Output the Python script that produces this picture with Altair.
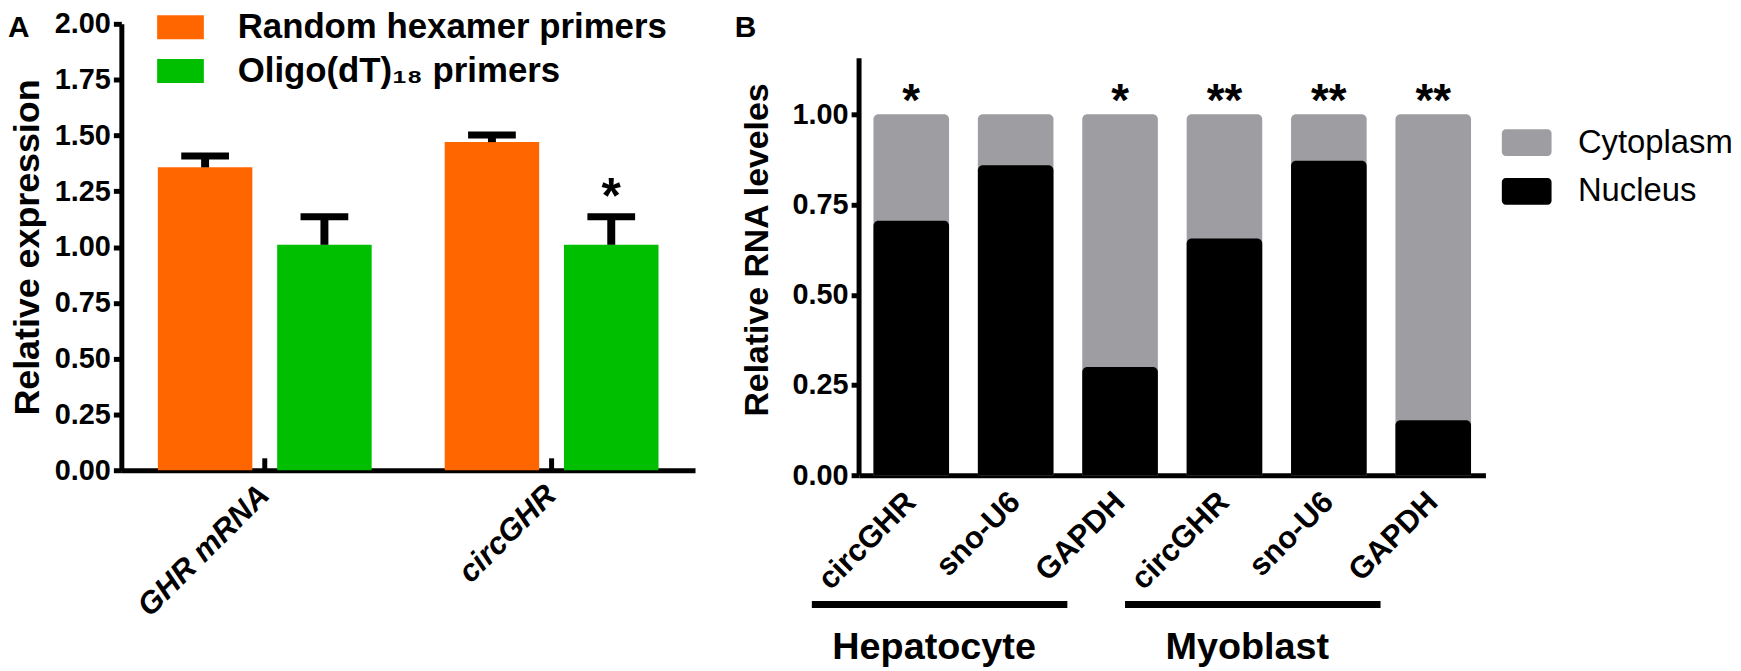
import altair as alt
import pandas as pd

FONT = "Liberation Sans"

# ---------------- Panel A data ----------------
genes_a = ["GHR mRNA", "circGHR"]
primers = ["Random hexamer primers", "Oligo(dT)₁₈ primers"]
mean_random = [1.357, 1.470]
sd_random = [0.051, 0.032]
mean_oligo = [1.010, 1.010]
sd_oligo = [0.126, 0.126]
sig_oligo = ["", "*"]
colors_a = ["#FF6600", "#00BF00"]
ticks_a = [0.0, 0.25, 0.5, 0.75, 1.0, 1.25, 1.5, 1.75, 2.0]

# ---------------- Panel B data ----------------
cells_b = ["Hepatocyte", "Hepatocyte", "Hepatocyte", "Myoblast", "Myoblast", "Myoblast"]
genes_b = ["circGHR", "sno-U6", "GAPDH", "circGHR", "sno-U6", "GAPDH"]
nucleus = [0.705, 0.859, 0.300, 0.656, 0.871, 0.152]
cytoplasm = [0.295, 0.141, 0.700, 0.344, 0.129, 0.848]
sig_b = ["*", "", "*", "**", "**", "**"]
parts = ["Cytoplasm", "Nucleus"]
colors_b = ["#9E9EA2", "#000000"]
ticks_b = [0.0, 0.25, 0.5, 0.75, 1.0]
axis_top_b = 1.155
groups_b = ["Hepatocyte", "Myoblast"]

# ---------------- tables ----------------
rows_a = []
for i, g in enumerate(genes_a):
    rows_a.append(dict(gene=g, primer=primers[0], mean=mean_random[i],
                       upper=mean_random[i] + sd_random[i], sig=""))
    rows_a.append(dict(gene=g, primer=primers[1], mean=mean_oligo[i],
                       upper=mean_oligo[i] + sd_oligo[i], sig=sig_oligo[i]))
dfa = pd.DataFrame(rows_a)

ids = [f"{c}|{g}" for c, g in zip(cells_b, genes_b)]
rows_b = []
for i, k in enumerate(ids):
    rows_b.append(dict(id=k, part="Cytoplasm", top=nucleus[i] + cytoplasm[i]))
for i, k in enumerate(ids):
    rows_b.append(dict(id=k, part="Nucleus", top=nucleus[i]))
dfb = pd.DataFrame(rows_b)
dfs = pd.DataFrame(dict(id=ids, total=[n + c for n, c in zip(nucleus, cytoplasm)], sig=sig_b))
dfg = pd.DataFrame(dict(cell=groups_b, start=[ids[0], ids[3]], mid=[ids[1], ids[4]], end=[ids[2], ids[5]]))

# ---------------- Panel A ----------------
def ya(field):
    return alt.Y(field, scale=alt.Scale(domain=[0, 2], nice=False),
                 axis=alt.Axis(title="Relative expression", values=ticks_a, format=".2f",
                               titleFontSize=36, titlePadding=8, labelFontSize=29, labelPadding=3))

def xa(field="gene:N"):
    return alt.X(field, title=None,
                 scale=alt.Scale(domain=genes_a, paddingInner=0, paddingOuter=0),
                 axis=alt.Axis(labelAngle=-45, labelAlign="right", labelBaseline="middle",
                               labelFontSize=31, labelFontStyle="italic", ticks=False,
                               labelPadding=20))

xoa = alt.XOffset("primer:N",
                  scale=alt.Scale(domain=primers, paddingInner=0.208, paddingOuter=0.306))

sym_a = "M-1.958,-1H1.958V1H-1.958Z"
bars_a = alt.Chart(dfa).mark_bar().encode(
    x=xa(), xOffset=xoa, y=ya("mean:Q"),
    color=alt.Color("primer:N",
                    scale=alt.Scale(domain=primers, range=colors_a),
                    legend=alt.Legend(title=None, orient="none", legendX=42, legendY=-14,
                                      symbolType=sym_a, symbolSize=576, symbolStrokeWidth=0,
                                      symbolOpacity=1, labelFont=FONT, labelFontSize=35,
                                      labelFontWeight="bold", labelColor="black",
                                      labelOffset=40, labelLimit=0, rowPadding=8, padding=0)))
stem_a = alt.Chart(dfa).mark_rule(color="black", strokeWidth=8).encode(
    x=xa(), xOffset=xoa, y=ya("mean:Q"), y2="upper:Q")
cap_a = alt.Chart(dfa).mark_tick(color="black", thickness=7, size=48, opacity=1).encode(
    x=xa(), xOffset=xoa, y=ya("upper:Q"))
star_a = alt.Chart(dfa).mark_text(font=FONT, fontSize=50, fontWeight="bold",
                                  baseline="middle", dy=-19, color="black").encode(
    x=xa(), xOffset=xoa, y=ya("upper:Q"), text="sig:N")
tick_a = alt.Chart(pd.DataFrame({"gene": genes_a})).mark_rule(color="black", strokeWidth=5).encode(
    x=xa(), y=alt.value(449), y2=alt.value(437))
lab_a = alt.Chart(pd.DataFrame({"t": ["A"]})).mark_text(
    font=FONT, fontSize=30, fontWeight="bold", align="left", baseline="top", color="black").encode(
    text="t:N", x=alt.value(-114), y=alt.value(-11))

panel_a = alt.layer(bars_a, stem_a, cap_a, star_a, tick_a, lab_a).properties(width=577, height=449)

# ---------------- Panel B ----------------
def yb(field):
    return alt.Y(field, stack=None, scale=alt.Scale(domain=[0, 1.2507], nice=False),
                 axis=alt.Axis(title="Relative RNA leveles", values=ticks_b, format=".2f",
                               domain=False, titleFontSize=34, titlePadding=18,
                               labelFontSize=29, labelPadding=3))

def xb(field="id:N"):
    return alt.X(field, title=None,
                 scale=alt.Scale(domain=ids, paddingInner=0.276, paddingOuter=0.138),
                 axis=alt.Axis(labelAngle=-45, labelAlign="right", labelBaseline="middle",
                               labelFontSize=31, ticks=False, labelPadding=22,
                               labelExpr="split(datum.label, '|')[1]"))

sym_b = ("M-1.556,-1H1.556A0.296,0.296 0 0 1 1.852,-0.704V0.704A0.296,0.296 0 0 1 1.556,1"
         "H-1.556A0.296,0.296 0 0 1 -1.852,0.704V-0.704A0.296,0.296 0 0 1 -1.556,-1Z")
bars_b = alt.Chart(dfb).mark_bar(cornerRadiusTopLeft=5, cornerRadiusTopRight=5).encode(
    x=xb(), y=yb("top:Q"),
    color=alt.Color("part:N",
                    scale=alt.Scale(domain=parts, range=colors_b),
                    legend=alt.Legend(title=None, orient="none", legendX=655, legendY=103,
                                      symbolType=sym_b, symbolSize=729, symbolStrokeWidth=0,
                                      symbolOpacity=1, labelFont=FONT, labelFontSize=33,
                                      labelFontWeight="normal", labelColor="black",
                                      labelOffset=35, labelLimit=0, rowPadding=15, padding=0)))
yaxis_b = alt.Chart(pd.DataFrame({"lo": [0.0], "hi": [axis_top_b]})).mark_rule(
    color="black", strokeWidth=5).encode(x=alt.value(0), y=yb("lo:Q"), y2="hi:Q")
star_b = alt.Chart(dfs).mark_text(font=FONT, fontSize=46, fontWeight="bold",
                                  baseline="middle", dy=-12, color="black").encode(
    x=xb(), y=yb("total:Q"), text="sig:N")
line_b = alt.Chart(dfg).mark_rule(color="black", strokeWidth=7, xOffset=-100, x2Offset=-53).encode(
    x=xb("start:N"), x2="end:N", y=alt.value(584))
grp_b = alt.Chart(dfg).mark_text(font=FONT, fontSize=38, fontWeight="bold", dx=-82,
                                 baseline="alphabetic", color="black").encode(
    x=xb("mid:N"), y=alt.value(639), text="cell:N")
lab_b = alt.Chart(pd.DataFrame({"t": ["B"]})).mark_text(
    font=FONT, fontSize=30, fontWeight="bold", align="left", baseline="top", color="black").encode(
    text="t:N", x=alt.value(-125), y=alt.value(-11))

panel_b = alt.layer(bars_b, yaxis_b, star_b, line_b, grp_b, lab_b).properties(width=630, height=454)

chart = alt.hconcat(panel_a, panel_b, spacing=40).resolve_scale(
    color="independent"
).properties(
    padding=0
).configure_view(stroke=None).configure_axis(
    domainColor="black", domainWidth=5, tickColor="black", tickWidth=5, tickSize=8,
    labelColor="black", titleColor="black", labelFont=FONT, titleFont=FONT,
    labelFontWeight="bold", titleFontWeight="bold", grid=False
)

chart.save("out.html", embed_options={"renderer": "svg", "actions": False})
